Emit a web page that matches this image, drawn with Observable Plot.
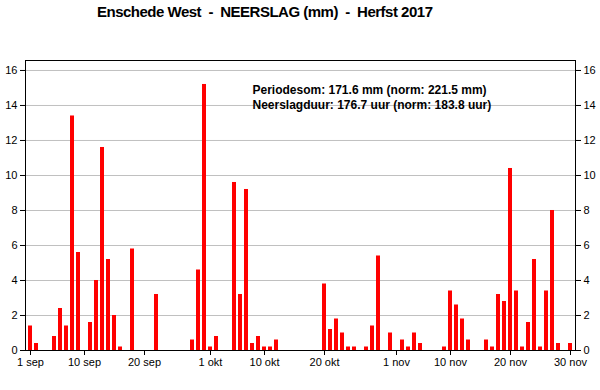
<!DOCTYPE html>
<html>
<head>
<meta charset="utf-8">
<script src="https://cdn.jsdelivr.net/npm/d3@7"></script>
<script src="https://cdn.jsdelivr.net/npm/@observablehq/plot@0.6"></script>
<style>
  body { margin: 0; background: #fff; font-family: "Liberation Sans", Arial, sans-serif; }
  #title { height: 30px; box-sizing: border-box; padding-left: 97px; padding-top: 3px; font-size: 15px; letter-spacing: -0.5px; font-weight: bold; white-space: pre; color: #000; }
</style>
</head>
<body>
<div id="title">Enschede West  -  NEERSLAG (mm)  -  Herfst 2017</div>
<div id="chart"></div>
<script>
// Daily precipitation (mm), autumn 2017
const sepValues = [1.4,0.4,0,0,0.8,2.4,1.4,13.4,5.6,0,1.6,4.0,11.6,5.2,2.0,0.2,0,5.8,0,0,0,3.2,0,0,0,0,0,0.6,4.6,15.2];
const oktValues = [0.2,0.8,0,0,9.6,3.2,9.2,0.4,0.8,0.2,0.2,0.6,0,0,0,0,0,0,0,3.8,1.2,1.8,1.0,0.2,0.2,0,0.2,1.4,5.4,0,1.0];
const novValues = [0,0.6,0.2,1.0,0.4,0,0,0,0.2,3.4,2.6,1.8,0.6,0,0,0.6,0.2,3.2,2.8,10.4,3.4,0.2,1.6,5.2,0.2,3.4,8.0,0.4,0,0.4];
const xTickDays = [0, 9, 19, 30, 39, 49, 61, 70, 80, 90];
const xTickLabels = ["1 sep","10 sep","20 sep","1 okt","10 okt","20 okt","1 nov","10 nov","20 nov","30 nov"];
const yTicks = [0, 2, 4, 6, 8, 10, 12, 14, 16];
const annotation = ["Periodesom: 171.6 mm (norm: 221.5 mm)", "Neerslagduur: 176.7 uur (norm: 183.8 uur)"];

const values = [...sepValues, ...oktValues, ...novValues];
const data = values.map((v, i) => ({day: i, v}));
const labelOf = new Map(xTickDays.map((d, k) => [d, xTickLabels[k]]));

const chart = Plot.plot({
  width: 600,
  height: 360,
  marginTop: 30,
  marginBottom: 40,
  marginLeft: 25,
  marginRight: 25,
  style: {fontFamily: "'Liberation Sans', Arial, sans-serif", fontSize: "11px", color: "#000", background: "#fff"},
  x: {type: "band", domain: d3.range(values.length), paddingInner: 0.33, paddingOuter: 0.2},
  y: {domain: [0, 16.57]},
  marks: [
    Plot.gridY(yTicks.filter(t => t > 0), {stroke: "#c0c0c0", strokeOpacity: 1}),
    Plot.barY(data, {x: "day", y: "v", fill: "#ff0000"}),
    Plot.frame({stroke: "#000"}),
    Plot.axisY(yTicks, {anchor: "left", tickSize: 5, tickPadding: 3, label: null}),
    Plot.axisY(yTicks, {anchor: "right", tickSize: 5, tickPadding: 3, label: null}),
    Plot.axisX(xTickDays, {anchor: "bottom", tickSize: 5, tickPadding: 3, label: null, tickFormat: d => labelOf.get(d)}),
    Plot.text([annotation.join("\n")], {frameAnchor: "top-left", dx: 227, dy: 22, textAnchor: "start", lineAnchor: "top", lineHeight: 1.29, fontWeight: "bold", fontSize: 12, fill: "#000"})
  ]
});
document.getElementById("chart").appendChild(chart);
</script>
</body>
</html>
